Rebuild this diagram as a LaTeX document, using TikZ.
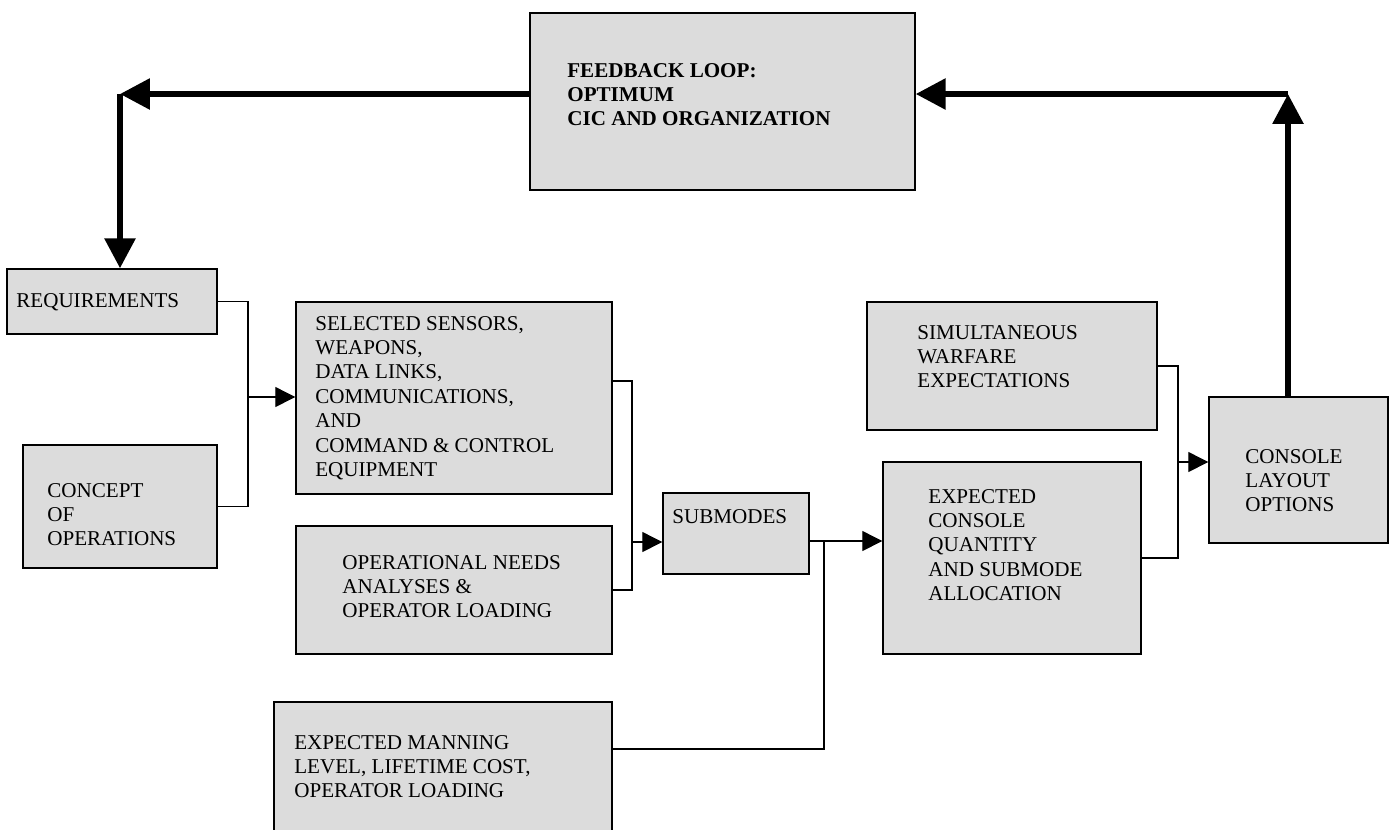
\documentclass[tikz,border=0pt]{standalone}
\usepackage{fontspec}
\setmainfont{Liberation Serif}
\usetikzlibrary{arrows.meta,fit}
\definecolor{boxgray}{RGB}{220,220,220}
\newcommand{\mylines}[1]{\begin{tabular}[t]{@{}l@{}}#1\end{tabular}}
\tikzset{
  box/.style={draw=black, fill=boxgray, line width=0.8pt, inner sep=0pt, rectangle},
  txt/.style={inner sep=0pt, anchor=base west, font=\fontsize{12}{13.9}\selectfont},
  conn/.style={draw=black, line width=0.7pt},
  arr/.style={conn, -{Triangle[length=11.4pt,width=11.4pt]}},
  bigarr/.style={draw=black, line width=3.4pt, -{Triangle[length=17pt,width=17pt]}}
}
\begin{document}
\begin{tikzpicture}[x=0.02cm,y=-0.02cm]
\useasboundingbox (0,0) rectangle (1391,829);
\clip (0,0) rectangle (1391,829);
% boxes
\node[box, fit={(530,13) (915,190)}] (fb) {};
\node[box, fit={(7,269) (217,334)}] (req) {};
\node[box, fit={(23,445) (217,568)}] (con) {};
\node[box, fit={(296,302) (612,494)}] (sel) {};
\node[box, fit={(296,526) (612,654)}] (ops) {};
\node[box, fit={(274,702) (612,840)}] (man) {};
\node[box, fit={(663,493) (809,574)}] (sub) {};
\node[box, fit={(867,302) (1157,430)}] (sim) {};
\node[box, fit={(883,462) (1141,654)}] (exc) {};
\node[box, fit={(1209,397) (1388,543)}] (cons) {};
% texts
\node[txt, font=\fontsize{12}{13.9}\selectfont\bfseries] (fbt) at (567,77) {\mylines{FEEDBACK LOOP:\\OPTIMUM\\CIC AND ORGANIZATION}};
\node[txt] (reqt) at (16,307) {REQUIREMENTS};
\node[txt] (cont) at (47,497) {\mylines{CONCEPT\\OF\\OPERATIONS}};
\node[txt] (selt) at (315,330) {\mylines{SELECTED SENSORS,\\WEAPONS,\\DATA LINKS,\\COMMUNICATIONS,\\AND\\COMMAND \& CONTROL\\EQUIPMENT}};
\node[txt] (opst) at (342,569) {\mylines{OPERATIONAL NEEDS\\ANALYSES \&\\OPERATOR LOADING}};
\node[txt] (mant) at (294,749) {\mylines{EXPECTED MANNING\\LEVEL, LIFETIME COST,\\OPERATOR LOADING}};
\node[txt] (subt) at (672,523) {SUBMODES};
\node[txt] (simt) at (917,339) {\mylines{SIMULTANEOUS\\WARFARE\\EXPECTATIONS}};
\node[txt] (exct) at (928,503) {\mylines{EXPECTED\\CONSOLE\\QUANTITY\\AND SUBMODE\\ALLOCATION}};
\node[txt] (const) at (1245,463) {\mylines{CONSOLE\\LAYOUT\\OPTIONS}};
% junction coordinates
\coordinate (j1) at (248,397);
\coordinate (j2a) at (632,381);
\coordinate (j2) at (632,542);
\coordinate (j3) at (824,541);
\coordinate (j3b) at (824,749);
\coordinate (j4) at (1178,462);
\coordinate (cL) at (120,94);
\coordinate (cR) at (1288,94);
% thin connectors
\draw[conn] (req.east) -| (j1) |- (con.east);
\draw[arr] (j1) -- (sel.west |- j1);
\draw[conn] (sel.east |- j2a) -- (j2a) |- (ops.east);
\draw[arr] (j2) -- (sub.west |- j2);
\draw[arr] (sub.east |- j3) -- (exc.west |- j3);
\draw[conn] (j3) -- (j3b) -- (man.east |- j3b);
\draw[conn] (sim.east) -| (j4) |- (exc.east);
\draw[arr] (j4) -- (cons.west |- j4);
% thick feedback arrows
\draw[bigarr] (fb.west |- cL) -- (cL);
\draw[bigarr] (cL) -- (req.north -| cL);
\draw[bigarr] (cons.north -| cR) -- (cR);
\draw[bigarr] (cR) -- (fb.east |- cR);
\end{tikzpicture}
\end{document}
